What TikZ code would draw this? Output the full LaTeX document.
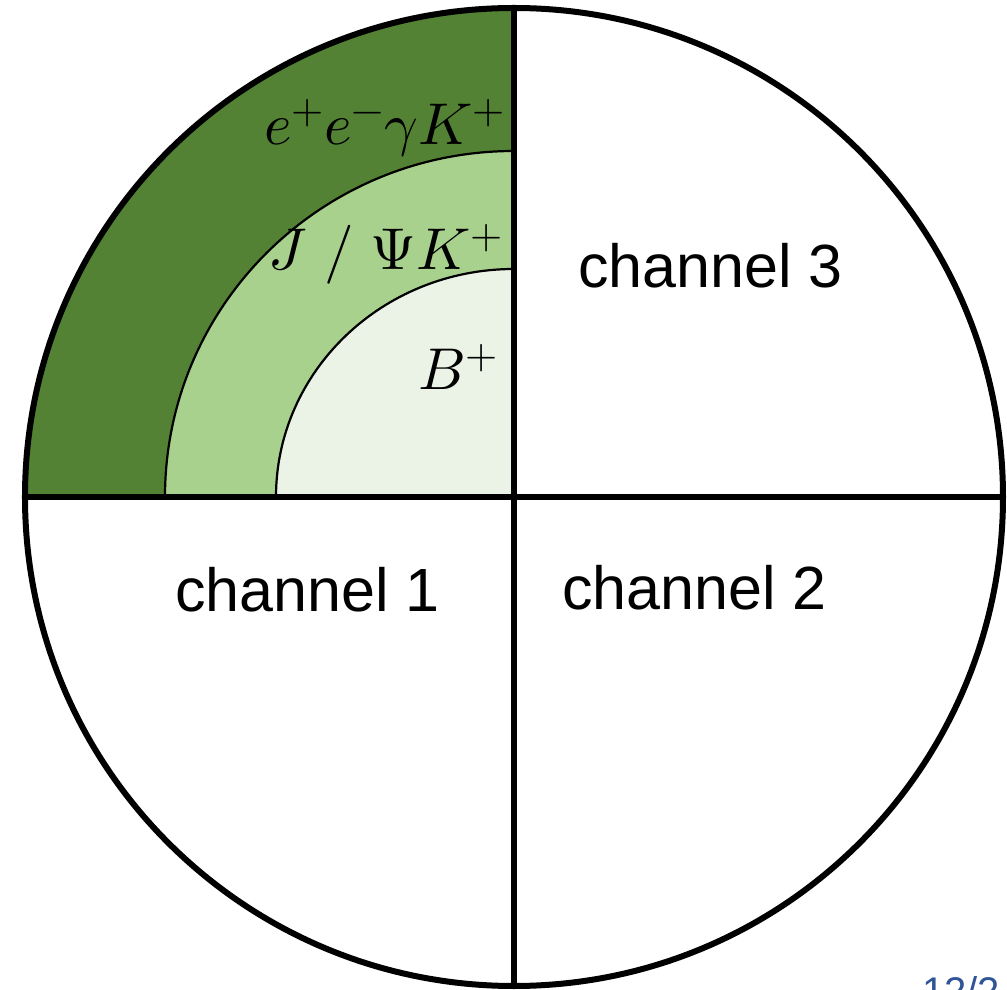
\documentclass[tikz,border=0pt]{standalone}
\usepackage{fontspec}
\setmainfont{Liberation Sans}
\usepackage{unicode-math}
\setmathfont{Latin Modern Math}
\definecolor{gdark}{HTML}{548235}
\definecolor{gmid}{HTML}{A9D18E}
\definecolor{glight}{HTML}{EBF3E6}
\definecolor{pgblue}{HTML}{2F5597}
\begin{document}
\begin{tikzpicture}[x=1pt,y=1pt,
  mathlbl/.style={anchor=base east,inner sep=0pt,font=\fontsize{59}{64}\selectfont},
  chlbl/.style={anchor=base west,inner sep=0pt,font=\fontsize{61}{66}\selectfont},
  ring/.style={line width=2.2pt}]
\useasboundingbox (-514,-493) rectangle (493,497);
\coordinate (c) at (0,0);
\coordinate (W) at (-489,0);
\coordinate (E) at (489,0);
\coordinate (N) at (0,489);
\coordinate (S) at (0,-489);
% fills
\fill[gdark] (c) -- (W) arc[start angle=180,end angle=90,radius=489] -- cycle;
\fill[gmid] (c) -- (-349,0) arc[start angle=180,end angle=90,x radius=349,y radius=346] -- cycle;
\fill[glight] (c) -- (-238,0) arc[start angle=180,end angle=90,x radius=238,y radius=228] -- cycle;
\draw[ring] (-349,0) arc[start angle=180,end angle=90,x radius=349,y radius=346];
\draw[ring] (-238,0) arc[start angle=180,end angle=90,x radius=238,y radius=228];
% cross and circle
\draw[line width=5.5pt] (W) -- (E);
\draw[line width=5.5pt] (N) -- (S);
\draw[line width=6pt] (c) circle[radius=489];
% labels
\node[mathlbl] (l3) at (-9,352) {$e^{+}e^{-}\gamma K^{+}$};
\node[mathlbl] (l2) at (-11,227) {$J\ /\ \Psi K^{+}$};
\node[mathlbl] (l1) at (-16,107) {$B^{+}$};
\node[chlbl] (ch3) at (64,209) {channel 3};
\node[chlbl] (ch1) at (-339,-115) {channel 1};
\node[chlbl] (ch2) at (48,-113) {channel 2};
\node[anchor=north west,inner sep=0pt,text=pgblue,font=\fontsize{40}{44}\selectfont] (pg) at (408,-479) {12/2};
\end{tikzpicture}
\end{document}
